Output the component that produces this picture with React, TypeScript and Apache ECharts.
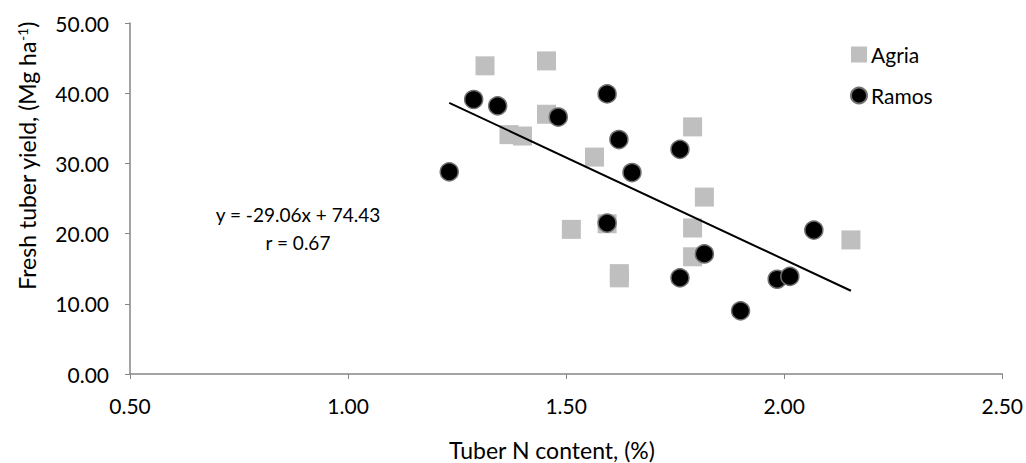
import React, { useEffect, useRef } from "react";
import * as echarts from "echarts";

const agria: [number, number][] = [
  [1.314, 43.9], [1.455, 44.6], [1.455, 37.0], [1.369, 34.1], [1.4, 33.9],
  [1.565, 30.9], [1.79, 35.2], [1.817, 25.2], [1.512, 20.6], [1.594, 21.4],
  [1.79, 20.8], [1.79, 16.7], [1.622, 14.3], [1.622, 13.7], [2.153, 19.1],
];
const ramos: [number, number][] = [
  [1.288, 39.1], [1.343, 38.2], [1.482, 36.6], [1.594, 39.9], [1.621, 33.4],
  [1.761, 32.0], [1.651, 28.7], [1.232, 28.8], [1.594, 21.5], [1.817, 17.1],
  [1.761, 13.7], [1.9, 9.0], [1.984, 13.5], [2.013, 13.9], [2.068, 20.5],
];
const trend: [number, number][] = [
  [1.232, 38.63], [2.153, 11.86],
];
const equationText = "y = -29.06x + 74.43";
const rText = "r = 0.67";
const xTitle = "Tuber N content, (%)";
const yTitleMain = "Fresh tuber yield, (Mg ha";
const yTitleSup = "-1";

export default function App() {
  const ref = useRef<HTMLDivElement>(null);
  useEffect(() => {
    const chart = echarts.init(ref.current!, undefined, { renderer: "svg" });
    const font = "Lato, 'Open Sans', sans-serif";
    chart.setOption({
      animation: false,
      textStyle: { fontFamily: font },
      grid: { left: 130, right: 20, top: 23, bottom: 89 },
      legend: {
        orient: "vertical",
        left: 845,
        top: 39,
        itemWidth: 16,
        itemHeight: 16,
        itemGap: 20,
        textStyle: { fontFamily: font, fontSize: 21, color: "#000", padding: [0, 0, 0, -1] },
        data: ["Agria", "Ramos"],
      },
      xAxis: {
        type: "value",
        min: 0.5,
        max: 2.5,
        interval: 0.5,
        axisLine: { lineStyle: { color: "#868686", width: 1.5 } },
        axisTick: { show: true, length: 5, lineStyle: { color: "#868686" } },
        axisLabel: {
          margin: 21,
          fontSize: 21,
          color: "#000",
          fontFamily: font,
          formatter: (v: number) => v.toFixed(2),
        },
        splitLine: { show: false },
      },
      yAxis: {
        type: "value",
        min: 0,
        max: 50,
        interval: 10,
        axisLine: { show: true, lineStyle: { color: "#868686", width: 1.5 } },
        axisTick: { show: true, length: 5, lineStyle: { color: "#868686" } },
        axisLabel: {
          margin: 21,
          fontSize: 21,
          color: "#000",
          fontFamily: font,
          formatter: (v: number) => v.toFixed(2),
        },
        splitLine: { show: false },
      },
      graphic: [
        {
          type: "text",
          x: 27,
          y: 156,
          rotation: Math.PI / 2,
          style: {
            text: `{a|${yTitleMain}}{s|${yTitleSup}}{a|)}`,
            align: "center",
            verticalAlign: "middle",
            rich: {
              a: { fontFamily: font, fontSize: 23, fill: "#000" },
              s: { fontFamily: font, fontSize: 14, fill: "#000", verticalAlign: "top", padding: [0, 0, 9, 0] },
            },
          },
        },
        {
          type: "text",
          x: 552,
          y: 450,
          style: {
            text: xTitle,
            align: "center",
            verticalAlign: "middle",
            fontFamily: font,
            fontSize: 23,
            fill: "#000",
          },
        },
        {
          type: "text",
          x: 298,
          y: 214,
          style: {
            text: equationText,
            align: "center",
            verticalAlign: "middle",
            fontFamily: font,
            fontSize: 19,
            fill: "#000",
          },
        },
        {
          type: "text",
          x: 298,
          y: 242,
          style: {
            text: rText,
            align: "center",
            verticalAlign: "middle",
            fontFamily: font,
            fontSize: 19,
            fill: "#000",
          },
        },
      ],
      series: [
        {
          name: "Agria",
          type: "scatter",
          symbol: "rect",
          symbolSize: 19,
          data: agria,
          itemStyle: { color: "#bfbfbf", opacity: 1 },
          z: 2,
        },
        {
          name: "Ramos",
          type: "scatter",
          symbol: "circle",
          symbolSize: 18,
          data: ramos,
          itemStyle: { color: "#000", borderColor: "#707070", borderWidth: 1.5, opacity: 1 },
          z: 3,
        },
        {
          name: "Trend",
          type: "line",
          data: trend,
          symbol: "none",
          lineStyle: { color: "#000", width: 2 },
          z: 4,
        },
      ],
    });
    return () => chart.dispose();
  }, []);
  return (
    <div
      ref={ref}
      style={{ position: "absolute", left: 0, top: 0, width: 1026, height: 463, background: "#fff" }}
    />
  );
}
